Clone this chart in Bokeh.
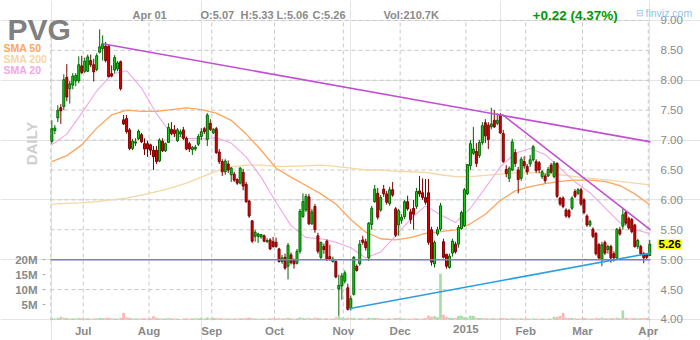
from math import pi

from bokeh.plotting import figure
from bokeh.models import Range1d, Label, ColumnDataSource
from bokeh.core.properties import value
from bokeh.embed import file_html
from bokeh.resources import INLINE

# ---------------- data: PVG daily, Jun 16 2014 .. Apr 01 2015 ----------------
month_starts = [11, 33, 54, 75, 98, 117, 139, 159, 178, 200]
month_labels = ["Jul", "Aug", "Sep", "Oct", "Nov", "Dec", "2015", "Feb", "Mar", "Apr"]
price_ticks = [4.0, 4.5, 5.0, 5.5, 6.0, 6.5, 7.0, 7.5, 8.0, 8.5, 9.0]
vol_ticks = [5, 10, 15, 20]          # millions

opens = [
    6.98, 7.16, 7.37, 7.54, 7.56, 8.05, 7.86, 7.92, 7.99, 7.99,
    8.24, 8.15, 8.15, 8.33, 8.26, 8.18, 8.47, 8.53, 8.57, 8.57,
    8.11, 8.17, 8.19, 8.31, 7.34, 7.36, 7.17, 6.86, 6.95, 7.02,
    7.09, 6.94, 6.94, 6.92, 6.83, 6.83, 6.65, 6.98, 6.82, 6.96,
    7.18, 7.17, 6.99, 7.10, 7.17, 7.03, 6.94, 6.84, 6.85, 6.93,
    7.06, 7.19, 7.01, 7.28, 7.12, 7.19, 6.80, 6.64, 6.47, 6.60,
    6.42, 6.43, 6.34, 6.28, 6.46, 6.26, 5.98, 5.65, 5.39, 5.39,
    5.38, 5.40, 5.30, 5.33, 5.30, 5.29, 5.18, 4.97, 5.04, 4.89,
    5.08, 5.00, 4.94, 5.14, 5.72, 5.83, 6.05, 5.60, 5.89, 5.40,
    5.04, 5.22, 5.31, 5.05, 4.97, 4.97, 4.51, 4.56, 4.64, 4.53,
    4.19, 4.42, 4.89, 4.93, 5.33, 5.30, 5.03, 5.59, 5.97, 6.11,
    5.83, 6.18, 6.10, 5.94, 6.17, 5.85, 5.58, 5.66, 5.72, 5.97,
    5.80, 5.86, 5.89, 6.15, 6.12, 6.04, 6.12, 5.50, 4.93, 5.43,
    5.51, 5.30, 5.09, 4.87, 5.11, 5.26, 5.26, 5.52, 5.57, 6.10,
    6.57, 6.78, 6.81, 6.74, 6.96, 7.29, 7.25, 7.22, 7.33, 7.28,
    7.42, 7.11, 6.51, 6.36, 6.50, 6.79, 6.50, 6.36, 6.64, 6.56,
    6.60, 6.67, 6.64, 6.62, 6.39, 6.40, 6.40, 6.58, 6.39, 6.61,
    6.03, 6.03, 5.83, 5.82, 5.86, 6.14, 6.11, 6.17, 6.00, 5.73,
    5.58, 5.51, 5.44, 5.25, 5.01, 5.29, 5.17, 5.22, 5.10, 5.03,
    5.50, 5.56, 5.79, 5.69, 5.67, 5.58, 5.22, 5.22, 5.10, 5.08,
    5.07,
]
highs = [
    7.33, 7.25, 7.58, 7.60, 8.10, 8.27, 7.99, 8.12, 8.12, 8.40,
    8.41, 8.38, 8.43, 8.43, 8.36, 8.45, 8.85, 8.75, 8.64, 8.60,
    8.25, 8.42, 8.32, 8.33, 7.42, 7.42, 7.20, 7.02, 7.03, 7.18,
    7.12, 7.03, 6.99, 6.94, 6.90, 6.90, 7.03, 7.03, 6.96, 7.28,
    7.30, 7.25, 7.20, 7.18, 7.22, 7.06, 6.97, 6.90, 6.92, 7.10,
    7.20, 7.22, 7.45, 7.35, 7.20, 7.22, 6.85, 6.68, 6.68, 6.66,
    6.55, 6.47, 6.36, 6.55, 6.52, 6.30, 6.00, 5.66, 5.50, 5.45,
    5.43, 5.42, 5.36, 5.36, 5.38, 5.37, 5.20, 5.08, 5.10, 5.28,
    5.12, 5.02, 5.18, 5.85, 6.11, 6.10, 6.10, 5.85, 5.93, 5.45,
    5.30, 5.27, 5.34, 5.25, 5.05, 4.99, 4.75, 4.78, 4.82, 4.60,
    4.40, 5.06, 4.92, 5.33, 5.40, 5.35, 5.63, 5.90, 6.25, 6.20,
    6.08, 6.25, 6.15, 6.22, 6.30, 5.88, 5.85, 5.76, 6.00, 6.07,
    5.85, 6.00, 6.20, 6.40, 6.36, 6.35, 6.35, 5.55, 5.32, 5.55,
    5.95, 5.35, 5.10, 5.10, 5.35, 5.30, 5.58, 5.82, 6.20, 6.60,
    7.00, 7.22, 6.95, 7.00, 7.30, 7.35, 7.30, 7.54, 7.50, 7.45,
    7.45, 7.17, 6.58, 6.56, 7.02, 6.85, 6.55, 6.72, 6.73, 6.60,
    6.75, 6.92, 6.68, 6.65, 6.50, 6.44, 6.55, 6.62, 6.65, 6.63,
    6.05, 6.06, 5.86, 5.85, 6.06, 6.18, 6.20, 6.20, 6.03, 5.76,
    5.67, 5.54, 5.46, 5.28, 5.30, 5.32, 5.25, 5.25, 5.14, 5.53,
    5.55, 5.86, 5.82, 5.72, 5.70, 5.60, 5.35, 5.25, 5.13, 5.10,
    5.33,
]
lows = [
    6.94, 7.10, 7.30, 7.27, 7.50, 7.65, 7.61, 7.85, 7.90, 7.95,
    8.10, 8.12, 8.14, 8.22, 7.98, 8.15, 8.45, 8.33, 8.30, 8.05,
    8.05, 8.12, 8.15, 7.83, 7.25, 7.11, 6.83, 6.83, 6.90, 7.00,
    6.95, 6.75, 6.72, 6.75, 6.50, 6.60, 6.63, 6.80, 6.80, 6.95,
    7.08, 7.05, 6.97, 7.05, 7.00, 6.83, 6.80, 6.75, 6.82, 6.90,
    7.00, 7.10, 6.90, 7.15, 7.10, 6.77, 6.60, 6.40, 6.42, 6.45,
    6.30, 6.30, 6.25, 6.26, 6.16, 5.95, 5.70, 5.28, 5.30, 5.28,
    5.35, 5.29, 5.28, 5.16, 5.20, 5.20, 4.95, 4.93, 4.83, 4.67,
    4.92, 4.85, 4.92, 5.10, 5.70, 5.80, 5.58, 5.58, 5.45, 5.10,
    5.00, 5.10, 4.98, 4.98, 4.95, 4.69, 4.06, 4.33, 4.60, 4.15,
    4.15, 4.40, 4.80, 4.90, 5.25, 5.15, 4.98, 5.50, 5.95, 5.67,
    5.80, 6.05, 5.92, 5.90, 6.05, 5.38, 5.40, 5.60, 5.68, 5.82,
    5.60, 5.50, 5.85, 6.05, 6.00, 5.92, 5.25, 4.90, 4.87, 5.40,
    5.48, 5.02, 4.85, 4.85, 5.05, 5.10, 5.20, 5.50, 5.55, 6.08,
    6.50, 6.75, 6.55, 6.70, 6.92, 6.95, 6.85, 7.18, 7.20, 7.25,
    7.10, 6.62, 6.38, 6.30, 6.48, 6.55, 6.11, 6.32, 6.52, 6.42,
    6.55, 6.64, 6.45, 6.45, 6.35, 6.28, 6.38, 6.44, 6.36, 6.03,
    5.90, 5.86, 5.70, 5.69, 5.83, 6.03, 6.08, 5.90, 5.76, 5.55,
    5.55, 5.36, 5.07, 5.00, 4.89, 5.08, 5.10, 4.95, 4.97, 5.00,
    5.40, 5.50, 5.58, 5.50, 5.44, 5.20, 5.18, 5.07, 4.94, 5.00,
    5.06,
]
closes = [
    7.19, 7.20, 7.50, 7.49, 8.01, 7.72, 7.94, 8.07, 8.08, 8.26,
    8.13, 8.32, 8.39, 8.26, 8.14, 8.41, 8.56, 8.61, 8.33, 8.06,
    8.07, 8.38, 8.29, 7.86, 7.27, 7.14, 6.86, 6.98, 6.97, 7.15,
    6.97, 6.85, 6.85, 6.83, 6.72, 6.64, 7.00, 6.82, 6.94, 7.21,
    7.11, 7.11, 7.17, 7.14, 7.03, 6.85, 6.85, 6.88, 6.88, 7.06,
    7.14, 7.14, 7.42, 7.18, 7.18, 6.79, 6.64, 6.47, 6.65, 6.50,
    6.53, 6.33, 6.28, 6.53, 6.23, 5.97, 5.73, 5.31, 5.46, 5.43,
    5.42, 5.31, 5.32, 5.18, 5.22, 5.22, 4.97, 5.03, 4.86, 5.24,
    4.95, 4.93, 5.14, 5.81, 5.97, 6.06, 5.60, 5.80, 5.50, 5.14,
    5.29, 5.17, 5.00, 5.01, 5.01, 4.71, 4.57, 4.73, 4.78, 4.17,
    4.35, 5.04, 4.82, 5.26, 5.29, 5.20, 5.61, 5.86, 6.18, 5.71,
    6.04, 6.10, 5.96, 6.17, 6.08, 5.41, 5.82, 5.71, 5.97, 5.85,
    5.67, 5.76, 6.14, 6.10, 6.04, 5.96, 5.29, 4.96, 5.29, 5.50,
    5.90, 5.04, 4.89, 5.06, 5.31, 5.13, 5.54, 5.79, 6.17, 6.59,
    6.94, 6.85, 6.61, 6.96, 7.24, 7.07, 7.01, 7.27, 7.22, 7.33,
    7.12, 6.64, 6.44, 6.53, 6.97, 6.61, 6.34, 6.68, 6.57, 6.47,
    6.67, 6.89, 6.49, 6.50, 6.47, 6.32, 6.51, 6.46, 6.61, 6.06,
    5.93, 5.89, 5.73, 5.72, 6.03, 6.06, 6.17, 5.93, 5.79, 5.58,
    5.64, 5.39, 5.10, 5.03, 5.25, 5.11, 5.22, 5.03, 5.03, 5.51,
    5.43, 5.75, 5.61, 5.53, 5.47, 5.22, 5.32, 5.10, 5.03, 5.04,
    5.26,
]
# daily volume, millions of shares
volumes = [
    0.4, 0.3, 0.5, 0.9, 0.6, 0.5, 0.3, 0.4, 0.3, 0.5,
    0.4, 0.3, 0.4, 0.3, 0.3, 0.4, 0.5, 0.4, 0.5, 0.6,
    0.4, 0.3, 0.3, 0.6, 2.2, 0.7, 0.6, 0.4, 0.3, 0.3,
    0.4, 0.4, 0.3, 0.4, 1.1, 0.6, 0.4, 0.3, 0.3, 0.5,
    0.3, 0.3, 0.3, 0.2, 0.3, 0.4, 0.3, 0.3, 0.4, 0.4,
    0.6, 0.3, 0.7, 0.3, 0.6, 0.5, 0.4, 0.4, 0.3, 0.3,
    0.3, 0.3, 0.3, 0.4, 0.4, 0.5, 0.6, 0.5, 0.3, 0.3,
    0.3, 0.3, 0.3, 0.4, 0.4, 0.3, 0.5, 0.3, 0.4, 0.6,
    0.4, 0.3, 0.4, 0.7, 0.5, 0.4, 0.5, 0.3, 0.6, 0.5,
    0.4, 0.3, 0.4, 0.3, 0.3, 0.7, 1.1, 0.6, 0.4, 0.6,
    0.5, 0.6, 0.3, 0.5, 0.4, 0.3, 0.6, 0.5, 0.5, 0.5,
    0.3, 0.3, 0.3, 0.4, 0.3, 0.5, 0.5, 0.3, 0.4, 0.3,
    0.3, 0.4, 0.4, 0.3, 0.3, 0.5, 1.3, 0.9, 1.1, 0.8,
    15.3, 1.6, 0.9, 0.6, 0.5, 0.5, 1.2, 1.3, 0.8, 0.6,
    1.3, 1.2, 0.6, 0.5, 0.5, 0.4, 0.4, 0.4, 0.4, 0.3,
    0.5, 0.5, 0.4, 0.3, 0.5, 0.3, 0.4, 0.4, 0.3, 0.3,
    0.3, 0.4, 0.3, 0.3, 0.3, 0.3, 0.3, 0.3, 0.9, 0.9,
    1.2, 2.2, 0.6, 0.5, 0.5, 0.4, 0.3, 0.4, 0.5, 0.4,
    0.3, 0.3, 0.5, 0.4, 0.6, 0.4, 0.4, 0.5, 0.4, 0.6,
    0.4, 3.0, 0.6, 0.4, 0.4, 0.5, 0.4, 0.4, 0.5, 0.5,
    0.21,
]

# moving averages, sampled every 5 sessions
sma_index = list(range(0, 201, 5))
sma20 = [6.92, 7.10, 7.45, 7.82, 8.10, 8.16, 7.87, 7.44, 7.10, 7.03,
         7.02, 7.04, 6.95, 6.72, 6.38, 5.96, 5.57, 5.37, 5.35, 5.29,
         5.20, 5.03, 5.13, 5.40, 5.68, 5.90, 5.75, 5.62, 5.86, 6.20,
         6.55, 6.78, 6.86, 6.76, 6.53, 6.30, 6.12, 5.87, 5.62, 5.50,
         5.44]
sma50 = [6.64, 6.74, 6.92, 7.20, 7.42, 7.50, 7.48, 7.48, 7.51, 7.54,
         7.51, 7.45, 7.33, 7.10, 6.83, 6.53, 6.38, 6.24, 6.10, 5.93,
         5.67, 5.46, 5.35, 5.33, 5.37, 5.44, 5.47, 5.50, 5.60, 5.76,
         5.99, 6.15, 6.22, 6.27, 6.31, 6.33, 6.33, 6.31, 6.24, 6.10,
         5.92]
sma200 = [5.93, 5.94, 5.95, 5.97, 6.00, 6.03, 6.08, 6.14, 6.20, 6.28,
          6.38, 6.48, 6.55, 6.58, 6.58, 6.56, 6.56, 6.57, 6.58, 6.56,
          6.53, 6.50, 6.50, 6.48, 6.47, 6.46, 6.42, 6.39, 6.39, 6.41,
          6.43, 6.45, 6.46, 6.44, 6.42, 6.39, 6.36, 6.34, 6.31, 6.28,
          6.25]

# hand-drawn lines: (start session, start price, end session, end price)
resistance_long = (17.0, 8.61, 200.25, 6.97)
resistance_short = (150.6, 7.43, 200.25, 5.50)
support_line = (99.3, 4.18, 200.25, 5.11)
level_line = 5.00

ticker = "PVG"
quote_date = "Apr 01"
quote_fields = ["O:5.07", "H:5.33", "L:5.06", "C:5.26"]
quote_volume = "Vol:210.7K"
quote_change = "+0.22 (4.37%)"
last_close = 5.26

# ---------------- geometry ----------------
W, H = 700, 340
FONT = "Liberation Sans"
GRAY = "#8a8a8a"

# price panel bounds in data units and its pixel box on the canvas
X_LO, X_HI = -0.45, 200.25
Y_LO, Y_HI = 3.983, 9.033
BOX_L, BOX_R, BOX_T, BOX_B = 50, 650, 18, 320
kx = (BOX_R - BOX_L) / (X_HI - X_LO)
ky = (BOX_B - BOX_T) / (Y_HI - Y_LO)

p = figure(width=W, height=H, output_backend="svg", toolbar_location=None,
           x_range=Range1d(X_LO - BOX_L / kx, X_HI + (W - BOX_R) / kx),
           y_range=Range1d(Y_LO - (H - BOX_B) / ky, Y_HI + BOX_T / ky),
           x_axis_location=None, y_axis_location=None,
           min_border=0)
p.outline_line_color = None
p.background_fill_color = "white"
p.border_fill_color = "white"

# volume shares the lower band of the price panel: 20M sits on the 5.00 line
VOL_PER_DOLLAR = 20.0
p.extra_y_ranges = {"vol": Range1d((p.y_range.start - 4.0) * VOL_PER_DOLLAR,
                                   (p.y_range.end - 4.0) * VOL_PER_DOLLAR)}

# ---------------- grid ----------------
GRID = dict(line_color="#c8c8c8", line_dash="4 3", line_width=1)
month_edges = [m - 0.5 for m in month_starts]
p.segment(x0=[X_LO] * len(price_ticks), x1=[X_HI] * len(price_ticks),
          y0=price_ticks, y1=price_ticks, **GRID)
vgrid = [X_LO + 0.1] + month_edges
p.segment(x0=vgrid, x1=vgrid, y0=[Y_LO] * len(vgrid), y1=[price_ticks[-1]] * len(vgrid), **GRID)

# ---------------- tick labels ----------------
p.text(x=[X_HI] * len(price_ticks), y=price_ticks, text=[f"{t:.2f}" for t in price_ticks],
       x_offset=10, text_baseline="middle", text_align="left",
       text_font=value(FONT), text_font_size="11.5px", text_color=GRAY)

p.text(x=month_edges, y=[Y_LO] * len(month_edges), text=month_labels,
       y_offset=4, text_baseline="top", text_align="center",
       text_font=value(FONT), text_font_size="11.5px", text_font_style="bold",
       text_color=GRAY)

p.text(x=[X_LO] * len(vol_ticks), y=vol_ticks, text=[f"{v}M" for v in vol_ticks],
       y_range_name="vol", x_offset=-13, text_baseline="middle", text_align="right",
       text_font=value(FONT), text_font_size="11.5px", text_font_style="bold",
       text_color=GRAY)
p.ray(x=[X_LO - 5 / kx] * len(vol_ticks), y=vol_ticks, y_range_name="vol",
      length=3, length_units="screen", angle=pi, line_color="#aaaaaa", line_width=1)

# ---------------- marks ----------------
n = len(closes)
up = [c >= o for o, c in zip(opens, closes)]
src = ColumnDataSource(dict(
    x=list(range(n)), open=opens, high=highs, low=lows, close=closes, vol=volumes,
    top=[max(o, c) for o, c in zip(opens, closes)],
    bottom=[min(o, c) for o, c in zip(opens, closes)],
    fill=["#18d818" if u else "#e00000" for u in up],
    edge=["#006400" if u else "#7a0000" for u in up],
    vfill=["#a6dea6" if u else "#ffb4b4" for u in up],
))

p.vbar(x="x", width=0.9, top="vol", bottom=0, y_range_name="vol",
       fill_color="vfill", line_color=None, source=src)

p.line(sma_index, sma200, line_color="#f6d6a2", line_width=1.3)
p.line(sma_index, sma50, line_color="#ffa45c", line_width=1.3)
p.line(sma_index, sma20, line_color="#f2a6e6", line_width=1.1)

p.segment(x0="x", y0="high", x1="x", y1="low", line_color="edge", line_width=1, source=src)
p.vbar(x="x", width=0.66, top="top", bottom="bottom", fill_color="fill",
       line_color="edge", line_width=1, source=src)

for (x0, y0, x1, y1), col in ((resistance_long, "#c24fd2"),
                              (resistance_short, "#c24fd2"),
                              (support_line, "#2a9ee2")):
    p.line([x0, x1], [y0, y1], line_color=col, line_width=1.6)

p.segment(x0=[X_LO], x1=[X_HI], y0=[level_line], y1=[level_line],
          line_color="#7b7bd8", line_width=1.6)


# ---------------- header, legend and side texts ----------------
def canvas_label(x, baseline_y, text, size, color, style="bold"):
    """Text placed by canvas pixel position: x from the left, baseline from the top."""
    return Label(x=x, y=H - baseline_y, x_units="screen", y_units="screen",
                 text=text, text_font=FONT, text_font_size=f"{size}px",
                 text_font_style=style, text_color=color, text_baseline="alphabetic")


p.add_layout(canvas_label(7, 29, ticker, 30, "#808080"))
p.add_layout(canvas_label(132, 14, quote_date, 11, GRAY))
for fx, field in zip((200, 240, 276, 312), quote_fields):
    p.add_layout(canvas_label(fx, 14, field, 11, GRAY))
p.add_layout(canvas_label(383, 14, quote_volume, 11, GRAY))
p.add_layout(canvas_label(532, 15, quote_change, 13.5, "#009a00"))
p.add_layout(canvas_label(635, 12, "\u229f", 9, "#8cc4ec", style="normal"))
p.add_layout(canvas_label(645, 12, "finviz.com", 10.5, "#8cc4ec", style="normal"))

p.add_layout(canvas_label(3, 47, "SMA 50", 10.5, "#ffa45c"))
p.add_layout(canvas_label(3, 58, "SMA 200", 10.5, "#f6d6a2"))
p.add_layout(canvas_label(3, 69, "SMA 20", 10.5, "#f2a6e6"))

p.add_layout(Label(x=31, y=H - 143, x_units="screen", y_units="screen",
                   text="DAILY", angle=pi / 2, text_font=FONT, text_font_size="15px",
                   text_font_style="bold", text_color="#cfcfcf",
                   text_align="center", text_baseline="middle"))

p.add_layout(Label(x=657, y=last_close, x_units="screen", y_units="data",
                   text=f"{last_close:.2f}", text_font=FONT, text_font_size="11.5px",
                   text_font_style="bold", text_color="black", text_baseline="middle",
                   background_fill_color="#ffff00", padding=1))

open("out.html", "w").write(file_html(p, INLINE))
